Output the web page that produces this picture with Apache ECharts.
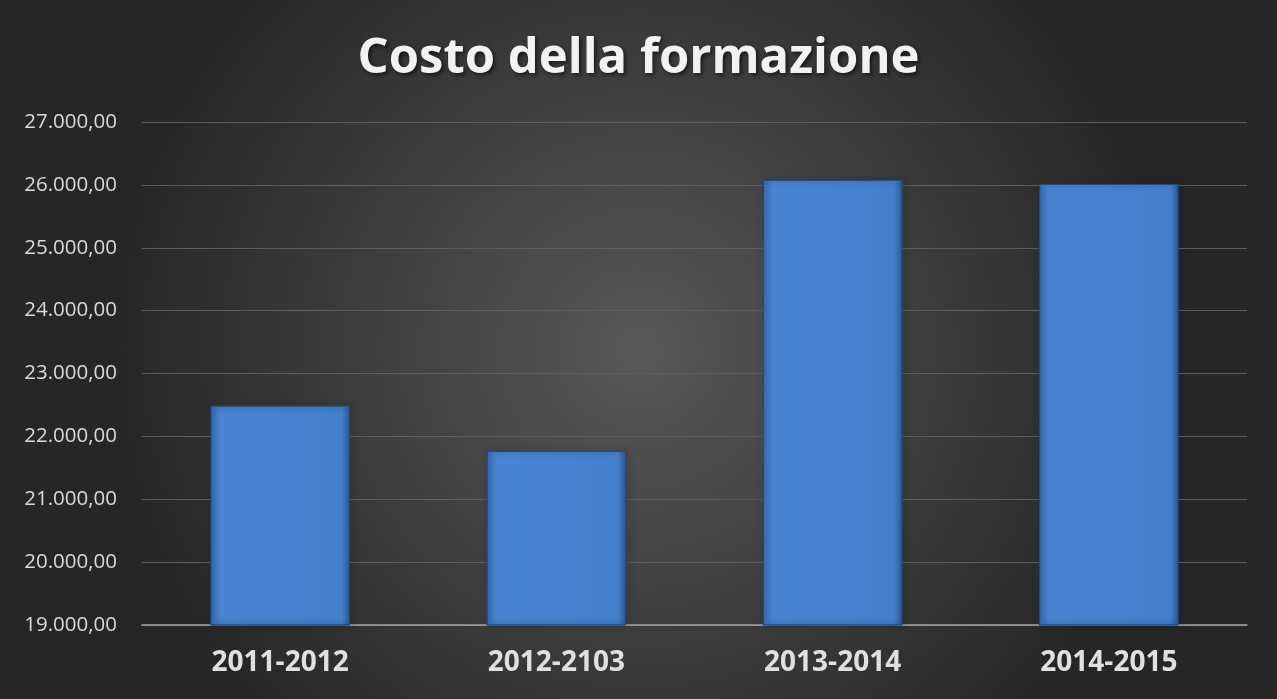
<!DOCTYPE html>
<html>
<head>
<meta charset="utf-8">
<style>
html,body{margin:0;padding:0;background:#333;}
#chart{width:1277px;height:699px;}
</style>
<script src="https://cdn.jsdelivr.net/npm/echarts@6/dist/echarts.min.js"></script>
</head>
<body>
<div id="chart"></div>
<script>
const categories = ['2011-2012', '2012-2103', '2013-2014', '2014-2015'];
const costValues = [22490, 21770, 26080, 26015];
const chartTitle = 'Costo della formazione';

function fmtIt(v) {
  const s = Math.round(v).toString().replace(/\B(?=(\d{3})+(?!\d))/g, '.');
  return s + ',00';
}

const chart = echarts.init(document.getElementById('chart'), null, {renderer: 'canvas'});
chart.setOption({
  backgroundColor: {
    type: 'radial', x: 0.5, y: 0.5, r: 0.75,
    colorStops: [
      {offset: 0, color: '#585858'},
      {offset: 1, color: '#262626'}
    ]
  },
  title: {
    text: chartTitle,
    left: 'center',
    top: 30,
    textStyle: {
      fontFamily: 'Open Sans',
      fontWeight: 'bold',
      fontSize: 49,
      color: '#f2f2f2',
      textShadowColor: 'rgba(0,0,0,0.6)',
      textShadowBlur: 4,
      textShadowOffsetX: 2,
      textShadowOffsetY: 2
    }
  },
  grid: {left: 142, right: 30, top: 122, bottom: 74},
  xAxis: {
    type: 'category',
    data: categories,
    axisLine: {lineStyle: {color: '#a6a6a6', width: 1.5}},
    axisTick: {show: false},
    axisLabel: {
      color: '#e0e0e0',
      fontFamily: 'Open Sans',
      fontWeight: 'bold',
      fontSize: 28,
      margin: 24
    }
  },
  yAxis: {
    type: 'value',
    min: 19000,
    max: 27000,
    interval: 1000,
    axisLine: {show: false},
    axisTick: {show: false},
    splitLine: {lineStyle: {color: '#5e5e5e', width: 1}},
    axisLabel: {
      color: '#d9d9d9',
      fontFamily: 'Open Sans',
      fontSize: 20.5,
      margin: 25,
      align: 'right',
      formatter: fmtIt
    }
  },
  series: [{
    type: 'bar',
    data: costValues,
    barWidth: '50.5%',
    itemStyle: {
      color: {
        type: 'linear', x: 0, y: 0, x2: 1, y2: 0,
        colorStops: [
          {offset: 0, color: '#3a6fb5'},
          {offset: 0.06, color: '#4784d2'},
          {offset: 0.5, color: '#4682d0'},
          {offset: 0.94, color: '#4380cc'},
          {offset: 1, color: '#2e5c98'}
        ]
      },
      borderColor: '#244a7c',
      borderWidth: 1,
      shadowColor: 'rgba(0,0,0,0.45)',
      shadowBlur: 6,
      shadowOffsetX: 2,
      shadowOffsetY: 0
    },
    emphasis: {disabled: true}
  }]
});
</script>
</body>
</html>
